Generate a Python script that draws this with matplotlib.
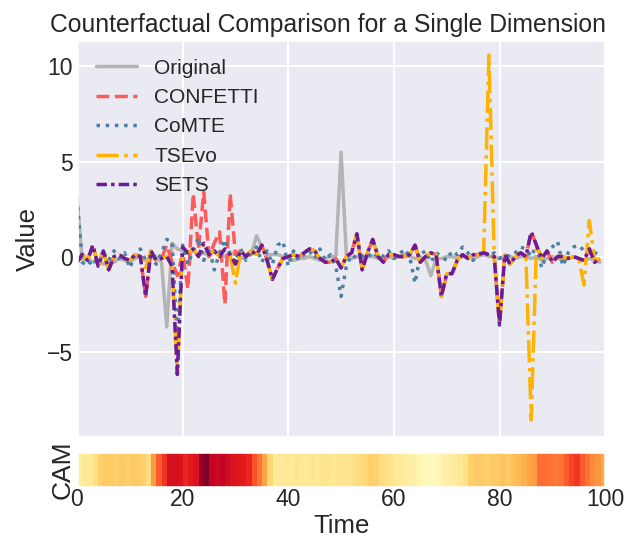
import numpy as np
import matplotlib
matplotlib.use("Agg")
import matplotlib.pyplot as plt
import seaborn as sns

time = np.arange(100)

original = [3.1, -0.2, -0.1, -0.3, -0.2, -0.4, -0.2, -0.3, -0.1, -0.2,
            -0.3, -0.1, 0.0, -0.2, -0.1, 0.0, -0.3, -3.7, 0.7, 0.4,
            0.3, 0.2, 0.3, 0.1, 0.2, 0.0, 0.3, 0.1, 0.0, 0.2,
            0.1, -0.1, 0.0, 0.1, 1.1, 0.5, 0.1, 0.1, 0.1, 0.0,
            -0.1, -0.2, -0.1, -0.1, 0.0, -0.1, -0.2, -0.1, 0.0, 0.0,
            5.5, 0.1, -0.1, 0.0, -0.1, 0.0, 0.0, -0.1, 0.0, 0.0,
            -0.1, 0.0, 0.1, 0.0, -0.1, 0.0, -0.2, -1.0, -0.1, -0.1,
            0.0, 0.0, -0.1, 0.0, 0.0, -0.1, 0.0, 0.1, 0.0, 0.0,
            -0.1, 0.0, 0.0, -0.1, 0.0, 0.0, -0.1, 0.0, -0.2, -0.1,
            0.0, -0.1, -0.2, -0.1, 0.0, -0.1, -0.2, -0.1, -0.2, -0.3]

comte = [3.1, -0.3, -0.5, -0.1, -0.4, 0.2, -0.2, 0.3, -0.1, 0.2,
         -0.6, 0.1, 0.4, -0.2, 0.0, -0.4, 0.2, 0.9, 0.8, -4.5,
         0.6, -0.4, 0.3, 1.0, -0.2, 0.5, -0.7, 0.2, 0.9, 0.1,
         -0.3, 0.4, -0.2, 0.2, 0.5, -0.3, 0.3, -0.4, 0.6, 0.8,
         -0.5, 0.3, -0.2, 0.1, 0.3, -0.1, 0.4, -0.2, 0.1, -0.5,
         -2.1, -0.5, 0.1, -0.1, 0.0, 0.2, -0.1, 0.2, 0.0, 0.3,
         -0.1, 0.1, 0.4, 0.0, -1.4, 0.1, 0.3, -0.3, 0.2, 0.0,
         -0.2, 0.3, 0.1, 0.5, 0.2, -0.2, 0.1, 0.3, 0.0, 0.2,
         -0.1, 0.1, 0.0, 0.2, 0.5, 0.4, 0.0, 0.6, -0.6, 0.2,
         0.5, 0.8, -0.5, 0.2, 0.5, 0.6, 0.3, 0.4, 0.1, 0.5]

sets = [-0.3, 0.1, -0.2, 0.6, -0.5, 0.3, -0.7, 0.0, 0.1, -0.1,
        -0.2, 0.1, 0.0, -2.1, 0.3, -0.2, -0.1, 0.0, -0.5, -6.2,
        0.5, 0.2, 0.4, 0.0, 0.7, 0.1, 0.3, 0.0, 0.4, 0.1,
        -0.4, 0.3, 0.0, 0.3, 0.1, 0.6, -0.2, -1.2, -0.6, -0.1,
        0.0, 0.1, 0.0, 0.2, 0.4, 0.3, -0.1, -0.3, -0.3, -0.1,
        -0.6, 0.0, 0.2, 1.2, -0.7, 0.2, 0.9, 0.0, -0.3, 0.1,
        0.1, 0.0, 0.0, 0.1, 0.6, -0.3, 0.0, 0.2, 0.1, -2.1,
        -0.9, -0.9, -0.2, 0.1, -0.1, 0.1, 0.1, 0.2, 0.1, 0.0,
        -3.6, 0.1, -0.4, 0.0, 0.2, 0.0, 1.3, 0.6, -0.1, 0.3,
        -0.3, 0.0, 0.0, -0.1, 0.0, -0.1, -0.2, 0.4, -0.3, -0.1]

# CONFETTI only departs from the (hidden) SETS curve between t=17 and t=30
confetti = list(sets)
confetti[17:31] = [0.6, -0.3, -1.0, 0.2, -1.7, 3.3, 0.4, 3.4, 0.0, 0.7,
                   1.3, -2.5, 3.3, 0.1]

tsevo = list(sets)
tsevo[13] = -0.6
tsevo[30] = -1.4
tsevo[78] = 10.6
tsevo[86] = -8.6
tsevo[96] = -1.5
tsevo[97] = 1.9
tsevo[98] = -0.2

cam = [0.12, 0.15, 0.15, 0.2, 0.28, 0.3, 0.3, 0.28, 0.3, 0.28,
       0.3, 0.3, 0.28, 0.22, 0.45, 0.6, 0.68, 0.8, 0.8, 0.78,
       0.72, 0.75, 0.78, 0.95, 1.0, 0.85, 0.83, 0.85, 0.82, 0.78,
       0.76, 0.75, 0.72, 0.62, 0.55, 0.42, 0.25, 0.14, 0.15, 0.16,
       0.15, 0.17, 0.16, 0.15, 0.17, 0.16, 0.18, 0.17, 0.16, 0.18,
       0.17, 0.18, 0.2, 0.22, 0.25, 0.28, 0.27, 0.22, 0.2, 0.18,
       0.15, 0.14, 0.12, 0.1, 0.08, 0.06, 0.05, 0.05, 0.07, 0.1,
       0.12, 0.14, 0.16, 0.2, 0.28, 0.3, 0.3, 0.28, 0.3, 0.3,
       0.32, 0.3, 0.33, 0.35, 0.38, 0.42, 0.45, 0.56, 0.56, 0.55,
       0.54, 0.55, 0.6, 0.65, 0.68, 0.6, 0.55, 0.5, 0.47, 0.4]

sns.set_theme(style="darkgrid", context="talk")
plt.rcParams['font.family'] = ['Liberation Sans', 'DejaVu Sans']

fig = plt.figure(figsize=(6.39, 5.39), dpi=100)
ax = fig.add_axes([0.1205, 0.189, 0.8265, 0.737])
ax_cam = fig.add_axes([0.1205, 0.0965, 0.8265, 0.065])

ax.plot(time, original, color="#b4b4b4", lw=2.5, label="Original")
ax.plot(time, confetti, color="#ff5a5a", lw=2.5, ls="--", label="CONFETTI")
ax.plot(time, comte, color="#4c7fa3", lw=2.5, ls=":", label="CoMTE")
ax.plot(time, tsevo, color="#ffb300", lw=2.5, ls="-.", label="TSEvo")
ax.plot(time, sets, color="#6a1b9a", lw=2.5, ls=(0, (3, 1.2, 1, 1.2)), label="SETS")

ax.set_xlim(0, 100)
ax.set_ylim(-9.5, 11.4)
ax.set_yticks([-5, 0, 5, 10])
ax.set_xticks([0, 20, 40, 60, 80, 100])
ax.tick_params(axis="x", labelbottom=False, length=0)
ax.tick_params(axis="y", length=0, pad=3)
ax.set_ylabel("Value", fontsize=18.5, labelpad=5)
ax.set_title("Counterfactual Comparison for a Single Dimension", fontsize=17.8, x=0.475)
ax.legend(loc="upper left", frameon=False, fontsize=15)

ax_cam.imshow(np.array(cam)[np.newaxis, :], aspect="auto", cmap="YlOrRd",
              vmin=0, vmax=1, extent=[0, 100, 0, 1], interpolation="nearest")
ax_cam.set_xlim(0, 100)
ax_cam.set_yticks([])
ax_cam.set_xticks([0, 20, 40, 60, 80, 100])
ax_cam.tick_params(axis="x", length=0, pad=1)
ax_cam.grid(False)
ax_cam.set_ylabel("CAM", fontsize=19, labelpad=2)
ax_cam.set_xlabel("Time", fontsize=18.5, labelpad=2)

fig.savefig("out.png", dpi=100)
